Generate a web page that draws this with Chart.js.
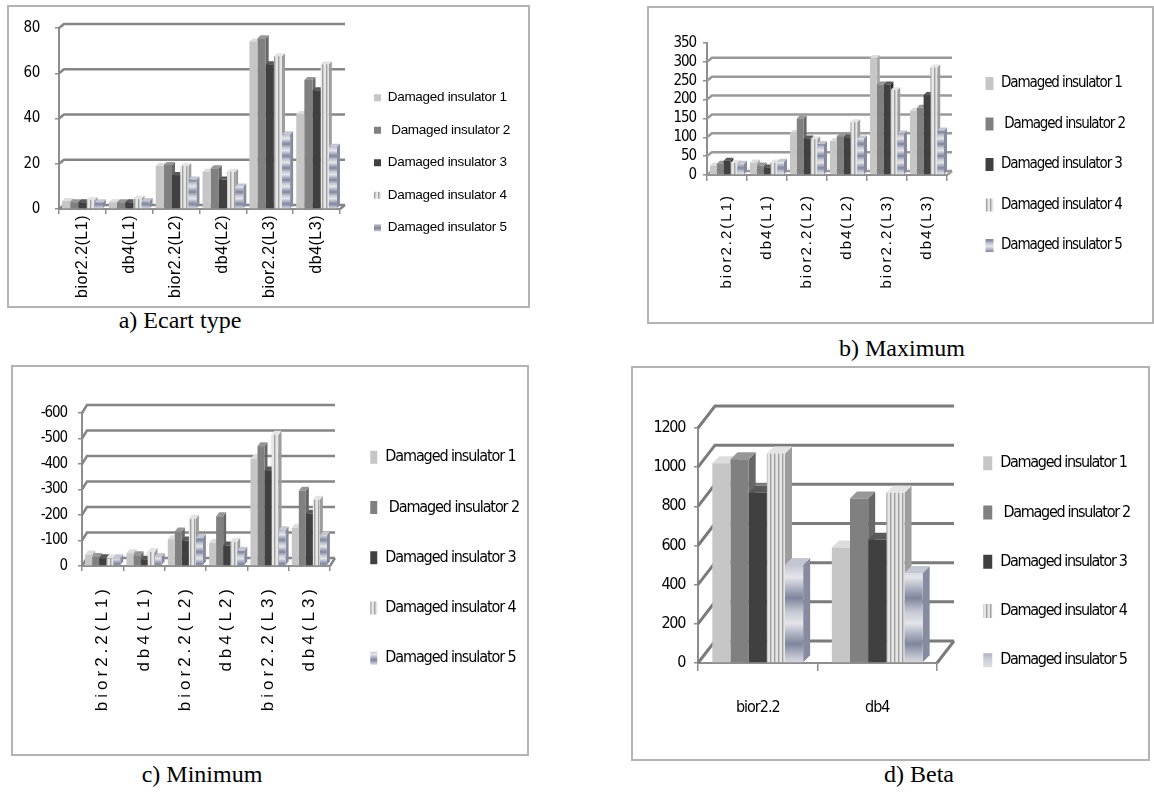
<!DOCTYPE html>
<html>
<head>
<meta charset="utf-8">
<script src="https://cdn.jsdelivr.net/npm/chart.js@4.4.1/dist/chart.umd.min.js"></script>
<style>
  html, body { margin: 0; padding: 0; background: #fff; }
  body { position: relative; width: 1154px; height: 799px; overflow: hidden; }
  .box { position: absolute; border: 2px solid #b3b3b3; box-sizing: border-box; }
  .cap { position: absolute; font-family: 'Liberation Serif', 'Times New Roman', serif; font-size: 24px; color: #000; transform: translate(-50%, -50%); white-space: nowrap; }
  canvas { position: absolute; left: 0; top: 0; }
</style>
</head>
<body>
<div class="box" style="left:7px;top:5px;width:523px;height:303px"></div>
<div class="box" style="left:647px;top:6px;width:507px;height:318px"></div>
<div class="box" style="left:11px;top:365px;width:518px;height:391px"></div>
<div class="box" style="left:631px;top:366px;width:519px;height:395px"></div>
<div class="cap" style="left:180px;top:320px">a) Ecart type</div>
<div class="cap" style="left:902px;top:348px">b) Maximum</div>
<div class="cap" style="left:202px;top:774px">c) Minimum</div>
<div class="cap" style="left:919px;top:774px">d) Beta</div>
<canvas id="ecart" width="1154" height="799"></canvas>
<canvas id="maximum" width="1154" height="799"></canvas>
<canvas id="minimum" width="1154" height="799"></canvas>
<canvas id="beta" width="1154" height="799"></canvas>
<script>
const categories = ['bior2.2(L1)', 'db4(L1)', 'bior2.2(L2)', 'db4(L2)', 'bior2.2(L3)', 'db4(L3)']
const betaCategories = ['bior2.2', 'db4']
const insulators = ['Damaged insulator 1', ' Damaged insulator 2', 'Damaged insulator 3', 'Damaged insulator 4', 'Damaged insulator 5']

// a) Ecart type
const ecart1 = [3.5, 3, 19, 16.5, 74, 42]
const ecart2 = [3, 3, 19.5, 18, 75.5, 57]
const ecart3 = [3, 3, 15, 13, 64, 52.5]
const ecart4 = [4, 4.5, 19, 16.5, 67.5, 64]
const ecart5 = [3, 3.5, 13, 10, 33, 27.5]
const ecartTicks = [0, 20, 40, 60, 80]

// b) Maximum
const max1 = [25, 33, 112, 90, 310, 170]
const max2 = [30, 25, 150, 103, 240, 178]
const max3 = [38, 20, 97, 100, 240, 212]
const max4 = [32, 33, 95, 140, 225, 285]
const max5 = [30, 35, 82, 97, 110, 118]
const maxTicks = [0, 50, 100, 150, 200, 250, 300, 350]

// c) Minimum
const min1 = [-45, -50, -105, -90, -420, -150]
const min2 = [-35, -42, -135, -195, -470, -295]
const min3 = [-30, -25, -100, -80, -375, -205]
const min4 = [-30, -55, -185, -95, -515, -260]
const min5 = [-30, -35, -110, -60, -140, -120]
const minTicks = [-600, -500, -400, -300, -200, -100, 0]

// d) Beta
const beta1 = [1020, 590]
const beta2 = [1040, 840]
const beta3 = [870, 630]
const beta4 = [1070, 870]
const beta5 = [500, 460]
const betaTicks = [0, 200, 400, 600, 800, 1000, 1200]

const narrow = "'Liberation Sans Narrow', 'Arial Narrow', 'DejaVu Sans Condensed', sans-serif"
const sans = "'Liberation Sans', Arial, sans-serif"
const axisGrey = '#8e8e8e'

Chart.defaults.color = '#000'

const makePattern = (w, h, paint) => {
  const c = document.createElement('canvas')
  c.width = w
  c.height = h
  const g = c.getContext('2d')
  paint(g, w, h)
  return g.createPattern(c, 'repeat')
}

const stripes = makePattern(4, 1, (g) => {
  g.fillStyle = '#e6e6e6'
  g.fillRect(0, 0, 2, 1)
  g.fillStyle = '#a0a0a0'
  g.fillRect(2, 0, 1, 1)
  g.fillStyle = '#cbcbcb'
  g.fillRect(3, 0, 1, 1)
})

const bands = (h) => makePattern(1, h, (g) => {
  const gr = g.createLinearGradient(0, 0, 0, h)
  gr.addColorStop(0, '#7f869c')
  gr.addColorStop(0.3, '#c6c9d4')
  gr.addColorStop(0.55, '#e4e5ea')
  gr.addColorStop(0.8, '#a9aebf')
  gr.addColorStop(1, '#7f869c')
  g.fillStyle = gr
  g.fillRect(0, 0, 1, h)
})

const looks = [
  { front: '#c6c6c6', top: '#dddddd', side: '#a8a8a8' },
  { front: '#808080', top: '#979797', side: '#676767' },
  { front: '#404040', top: '#595959', side: '#2c2c2c' },
  { front: stripes, top: '#e4e4e4', side: '#9d9d9d' },
  { front: null, top: '#c4c7d2', side: '#868ba0' },
]

const makeDatasets = (series, bandHeight) => series.map((values, i) => ({
  label: insulators[i],
  data: values,
  backgroundColor: looks[i].front || bands(bandHeight),
  topColor: looks[i].top,
  sideColor: looks[i].side,
  borderWidth: 0,
}))

// back wall grid + bar side/top faces, fake 3d like the excel original
const depth = {
  id: 'depth',
  beforeDraw(chart, args, o) {
    // legend + y ticks are drawn before the datasets: squeeze them a bit
    chart.ctx.letterSpacing = (o.tight || 0) + 'px'
  },
  beforeDatasetsDraw(chart, args, o) {
    const { ctx, chartArea: a, scales: { y } } = chart
    ctx.save()
    ctx.strokeStyle = o.grid
    ctx.lineWidth = o.gridWidth
    y.ticks.forEach((t) => {
      if (o.skipTop && t.value === y.max) return
      const py = y.getPixelForValue(t.value)
      ctx.beginPath()
      ctx.moveTo(a.left, py)
      ctx.lineTo(a.left + o.wx, py - o.wy)
      ctx.lineTo(a.right + o.wx, py - o.wy)
      ctx.stroke()
    })
    ctx.beginPath()
    ctx.moveTo(a.right, a.bottom)
    ctx.lineTo(a.right + o.wx, a.bottom - o.wy)
    ctx.stroke()

    const bars = []
    chart.data.datasets.forEach((ds, i) => {
      chart.getDatasetMeta(i).data.forEach((el) => {
        const p = el.getProps(['x', 'y', 'base', 'width'], true)
        bars.push({
          ds,
          l: p.x - p.width / 2,
          r: p.x + p.width / 2,
          t: Math.min(p.y, p.base),
          b: Math.max(p.y, p.base),
        })
      })
    })
    bars.forEach(({ ds, r, t, b }) => {
      ctx.fillStyle = ds.sideColor
      ctx.beginPath()
      ctx.moveTo(r, b)
      ctx.lineTo(r + o.bx, b - o.by)
      ctx.lineTo(r + o.bx, t - o.by)
      ctx.lineTo(r, t)
      ctx.closePath()
      ctx.fill()
    })
    bars.forEach(({ ds, l, r, t }) => {
      ctx.fillStyle = ds.topColor
      ctx.beginPath()
      ctx.moveTo(l, t)
      ctx.lineTo(l + o.bx, t - o.by)
      ctx.lineTo(r + o.bx, t - o.by)
      ctx.lineTo(r, t)
      ctx.closePath()
      ctx.fill()
    })
    ctx.restore()
  },
  afterDatasetsDraw(chart, args, o) {
    // x labels are drawn after this (ticks z = 1), spaced out like the picture
    chart.ctx.letterSpacing = (o.spacing || 0) + 'px'
  },
  afterDraw(chart) {
    chart.ctx.letterSpacing = '0px'
  },
}

const placeLegend = {
  id: 'placeLegend',
  beforeDraw(chart, args, o) {
    const lg = chart.legend
    lg.left = o.x
    lg.right = o.x + 300
    lg.top = o.y
    lg.bottom = o.y + 400
  },
}

const build = (id, cfg) => new Chart(document.getElementById(id), {
  type: 'bar',
  data: { labels: cfg.labels, datasets: cfg.datasets },
  options: {
    responsive: false,
    animation: false,
    events: [],
    layout: { padding: cfg.padding },
    datasets: { bar: { categoryPercentage: cfg.cat, barPercentage: 1 } },
    scales: {
      x: {
        afterFit: (s) => { s.height = cfg.xHeight },
        border: { color: axisGrey, width: 2 },
        grid: { drawOnChartArea: false, tickLength: cfg.xTick, color: axisGrey, lineWidth: 1.5 },
        ticks: {
          z: 1,
          autoSkip: false,
          minRotation: cfg.rot,
          maxRotation: cfg.rot,
          padding: cfg.xPad,
          color: '#000',
          font: cfg.xFont,
        },
      },
      y: {
        min: cfg.ticks[0] < 0 ? cfg.ticks[0] : 0,
        max: cfg.ticks[0] < 0 ? 0 : cfg.ticks[cfg.ticks.length - 1],
        reverse: cfg.reverse || false,
        afterFit: (s) => { s.width = 50 },
        afterBuildTicks: (s) => { s.ticks = cfg.ticks.map((v) => ({ value: v })) },
        border: { color: axisGrey, width: 2 },
        grid: { drawOnChartArea: false, tickLength: 4, color: axisGrey, lineWidth: 1.5 },
        ticks: {
          autoSkip: false,
          padding: cfg.yPad,
          color: '#000',
          font: { family: narrow, size: cfg.ySize, lineHeight: 1 },
          callback: (v) => String(v),
        },
      },
    },
    plugins: {
      legend: {
        position: 'right',
        align: 'start',
        maxWidth: 1,
        labels: {
          color: '#000',
          boxWidth: cfg.legend.bw,
          boxHeight: cfg.legend.bh,
          padding: cfg.legend.pad,
          font: cfg.legend.font,
        },
      },
      tooltip: { enabled: false },
      depth: cfg.depth,
      placeLegend: { x: cfg.legend.x, y: cfg.legend.y },
    },
  },
  plugins: [depth, placeLegend],
})

build('ecart', {
  labels: categories,
  datasets: makeDatasets([ecart1, ecart2, ecart3, ecart4, ecart5], 12),
  ticks: ecartTicks,
  padding: { left: 9, top: 28, right: 813, bottom: 480 },
  cat: 0.87,
  rot: 90,
  xHeight: 110,
  xTick: 5,
  xPad: 1,
  xFont: { family: sans, size: 16 },
  yPad: 15,
  ySize: 15,
  depth: { wx: 5, wy: 4, bx: 3, by: 3, grid: '#858585', gridWidth: 2.5, spacing: 0.5, tight: -0.3 },
  legend: { bw: 7, bh: 7, pad: 19, font: { family: sans, size: 13.5 }, x: 355, y: 72 },
})

build('maximum', {
  labels: categories,
  datasets: makeDatasets([max1, max2, max3, max4, max5], 12),
  ticks: maxTicks,
  padding: { left: 657, top: 43, right: 206, bottom: 494 },
  cat: 0.85,
  rot: 90,
  xHeight: 130,
  xTick: 6,
  xPad: 13,
  xFont: { family: sans, size: 15 },
  yPad: 7,
  ySize: 15,
  depth: { wx: 5, wy: 4, bx: 3, by: 3, grid: '#999999', gridWidth: 2.5, skipTop: true, spacing: 2, tight: -1.1 },
  legend: { bw: 8, bh: 13, pad: 25.5, font: { family: narrow, size: 15 }, x: 960, y: 50.5 },
})

build('minimum', {
  labels: categories,
  datasets: makeDatasets([min1, min2, min3, min4, min5], 12),
  ticks: minTicks,
  reverse: true,
  padding: { left: 32, top: 413, right: 823, bottom: 73 },
  cat: 0.85,
  rot: 90,
  xHeight: 160,
  xTick: 5,
  xPad: 14,
  xFont: { family: sans, size: 17 },
  yPad: 11,
  ySize: 15,
  depth: { wx: 5, wy: 8, bx: 3, by: 4, grid: '#858585', gridWidth: 2.5, spacing: 4, tight: -1.1 },
  legend: { bw: 7, bh: 13, pad: 34.25, font: { family: narrow, size: 16 }, x: 336, y: 415 },
})

build('beta', {
  labels: betaCategories,
  datasets: makeDatasets([beta1, beta2, beta3, beta4, beta5], 46),
  ticks: betaTicks,
  padding: { left: 648, top: 428, right: 216, bottom: 76 },
  cat: 0.76,
  rot: 0,
  xHeight: 60,
  xTick: 8,
  xPad: 27,
  xFont: { family: narrow, size: 16 },
  yPad: 9,
  ySize: 16,
  depth: { wx: 17, wy: 22, bx: 7, by: 7, grid: '#7b7b7b', gridWidth: 3, spacing: -1, tight: -1.3 },
  legend: { bw: 9, bh: 14, pad: 33.25, font: { family: narrow, size: 16 }, x: 950, y: 422 },
})
</script>
</body>
</html>
